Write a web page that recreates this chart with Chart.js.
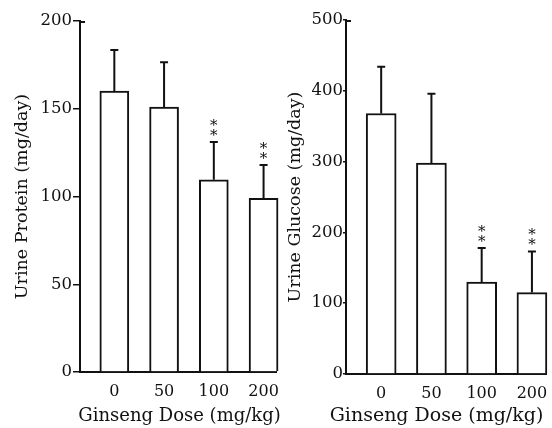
<!DOCTYPE html>
<html>
<head>
<meta charset="utf-8">
<script src="https://cdn.jsdelivr.net/npm/chart.js@4"></script>
<style>
  html, body { margin: 0; padding: 0; background: #fff; }
  #wrap { position: relative; width: 552px; height: 428px; }
  canvas { position: absolute; top: 0; }
</style>
</head>
<body>
<div id="wrap">
  <canvas id="protein" width="281" height="428" style="left:0"></canvas>
  <canvas id="glucose" width="271" height="428" style="left:281px"></canvas>
</div>
<script>
const doses = ["0", "50", "100", "200"];
const proteinMean = [160, 151, 109.5, 99];
const proteinErr = [23.5, 25.5, 21.5, 19];
const glucoseMean = [368, 298, 130, 115];
const glucoseErr = [66, 98, 48, 58];
const signif = ["", "", "**", "**"];

const ink = "#111";
const serif = "'DejaVu Serif', serif";

// upper whiskers, asterisks, x title and the little hook at the top of the y axis
const extras = {
    id: "extras",
    afterDatasetsDraw(chart, args, opts) {
        const ctx = chart.ctx;
        const xs = chart.scales.x, ys = chart.scales.y;
        const area = chart.chartArea;
        ctx.save();
        ctx.strokeStyle = ink;
        ctx.fillStyle = ink;
        ctx.lineWidth = 2;
        opts.mean.forEach((m, i) => {
            const x = xs.getPixelForValue(i);
            const y0 = ys.getPixelForValue(m);
            const y1 = ys.getPixelForValue(m + opts.err[i]);
            ctx.beginPath();
            ctx.moveTo(x, y0);
            ctx.lineTo(x, y1);
            ctx.moveTo(x - 4, y1);
            ctx.lineTo(x + 4, y1);
            ctx.stroke();
            if (signif[i]) {
                ctx.font = "15px " + serif;
                ctx.textAlign = "center";
                ctx.textBaseline = "middle";
                ctx.fillText("*", x, y1 - 6);
                ctx.fillText("*", x, y1 - 16);
            }
        });
        ctx.beginPath();
        ctx.moveTo(area.left, area.top + 1);
        ctx.lineTo(area.left + 5, area.top + 1);
        ctx.stroke();
        ctx.font = opts.titleSize + "px " + serif;
        ctx.textAlign = "center";
        ctx.textBaseline = "alphabetic";
        ctx.fillText("Ginseng Dose (mg/kg)", opts.titleX, 421);
        ctx.restore();
    }
};

function makeChart(id, mean, err, yTitle, yMax, yStep, p) {
    const ctx = document.getElementById(id);
    return new Chart(ctx, {
        type: "bar",
        data: {
            datasets: [{
                data: mean.map((v, i) => ({ x: i, y: v })),
                backgroundColor: "#fff",
                borderColor: ink,
                borderWidth: 2,
                barThickness: p.barW,
                clip: false,
            }]
        },
        options: {
            responsive: false,
            animation: false,
            layout: { padding: { top: p.top, right: p.right, left: 0, bottom: 0 } },
            plugins: {
                legend: { display: false },
                tooltip: { enabled: false },
                extras: { mean: mean, err: err, titleX: p.titleX, titleSize: p.titleSize },
            },
            scales: {
                x: {
                    type: "linear",
                    offset: false,
                    min: p.xMin,
                    max: p.xMax,
                    afterBuildTicks: (s) => { s.ticks = doses.map((d, i) => ({ value: i })); },
                    afterFit: (s) => { s.height = p.bottomH; s.paddingLeft = 0; s.paddingRight = 0; },
                    grid: { display: false, drawTicks: false },
                    border: { display: true, color: ink, width: 2 },
                    ticks: {
                        color: ink,
                        padding: 10,
                        maxRotation: 0,
                        autoSkip: false,
                        font: { family: serif, size: 16 },
                        callback: (v) => doses[v],
                    },
                },
                y: {
                    min: 0,
                    max: yMax,
                    afterFit: (s) => { s.width = p.axisX; },
                    grid: { drawOnChartArea: false, drawTicks: true, tickLength: p.tickLen, color: ink, lineWidth: 1.5 },
                    border: { display: true, color: ink, width: 2 },
                    ticks: {
                        stepSize: yStep,
                        color: ink,
                        padding: p.tickPad,
                        font: { family: serif, size: 16.5 },
                    },
                    title: {
                        display: true,
                        text: yTitle,
                        color: ink,
                        padding: { top: p.titlePad, bottom: 0 },
                        font: { family: serif, size: 17.5 },
                    },
                },
            },
        },
        plugins: [extras],
    });
}

makeChart("protein", proteinMean, proteinErr, "Urine Protein (mg/day)", 200, 50, {
    top: 21, right: 5, bottomH: 56, axisX: 80, tickLen: 7, tickPad: 1, titlePad: 12,
    xMin: -0.69, xMax: 3.25, barW: 29, titleX: 179.5, titleSize: 18,
});

makeChart("glucose", glucoseMean, glucoseErr, "Urine Glucose (mg/day)", 500, 100, {
    top: 20, right: 6, bottomH: 54, axisX: 65, tickLen: 3, tickPad: 0, titlePad: 4,
    xMin: -0.70, xMax: 3.28, barW: 30, titleX: 155.5, titleSize: 19,
});
</script>
</body>
</html>
